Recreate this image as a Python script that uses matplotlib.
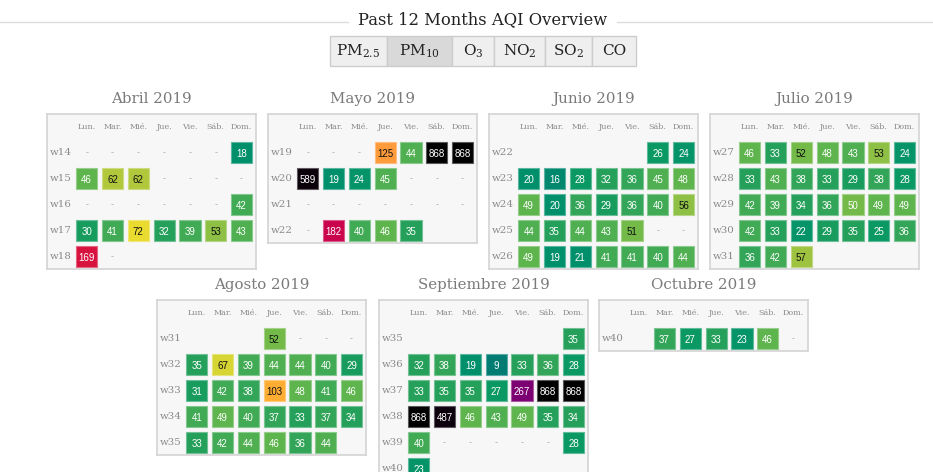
import matplotlib
matplotlib.use("Agg")
import matplotlib.pyplot as plt
import matplotlib.colors as mcolors
from matplotlib.patches import Rectangle
import numpy as np

plt.rcParams["mathtext.fontset"] = "dejavuserif"

# ---- data -----------------------------------------------------------------
# None  -> day without a reading (drawn as a dash)
# ""    -> day outside the month (left blank)
B = ""
days = ["Lun.", "Mar.", "Mié.", "Jue.", "Vie.", "Sáb.", "Dom."]
tabs = [r"PM$_{2.5}$", r"PM$_{10}$", r"O$_3$", r"NO$_2$", r"SO$_2$", "CO"]
active_tab = 1

months = ["Abril 2019", "Mayo 2019", "Junio 2019", "Julio 2019",
          "Agosto 2019", "Septiembre 2019", "Octubre 2019"]

abril_weeks = ["w14", "w15", "w16", "w17", "w18"]
abril = [
    [None, None, None, None, None, None, 18],
    [46, 62, 62, None, None, None, None],
    [None, None, None, None, None, None, 42],
    [30, 41, 72, 32, 39, 53, 43],
    [169, None, B, B, B, B, B],
]

mayo_weeks = ["w19", "w20", "w21", "w22"]
mayo = [
    [None, None, None, 125, 44, 868, 868],
    [589, 19, 24, 45, None, None, None],
    [None, None, None, None, None, None, None],
    [None, 182, 40, 46, 35, B, B],
]

junio_weeks = ["w22", "w23", "w24", "w25", "w26"]
junio = [
    [B, B, B, B, B, 26, 24],
    [20, 16, 28, 32, 36, 45, 48],
    [49, 20, 36, 29, 36, 40, 56],
    [44, 35, 44, 43, 51, None, None],
    [49, 19, 21, 41, 41, 40, 44],
]

julio_weeks = ["w27", "w28", "w29", "w30", "w31"]
julio = [
    [46, 33, 52, 48, 43, 53, 24],
    [33, 43, 38, 33, 29, 38, 28],
    [42, 39, 34, 36, 50, 49, 49],
    [42, 33, 22, 29, 35, 25, 36],
    [36, 42, 57, B, B, B, B],
]

agosto_weeks = ["w31", "w32", "w33", "w34", "w35"]
agosto = [
    [B, B, B, 52, None, None, None],
    [35, 67, 39, 44, 44, 40, 29],
    [31, 42, 38, 103, 48, 41, 46],
    [41, 49, 40, 37, 33, 37, 34],
    [33, 42, 44, 46, 36, 44, B],
]

septiembre_weeks = ["w35", "w36", "w37", "w38", "w39", "w40"]
septiembre = [
    [B, B, B, B, B, B, 35],
    [32, 38, 19, 9, 33, 36, 28],
    [33, 35, 35, 27, 267, 868, 868],
    [868, 487, 46, 43, 49, 35, 34],
    [40, None, None, None, None, None, 28],
    [23, B, B, B, B, B, B],
]

octubre_weeks = ["w40"]
octubre = [
    [B, 37, 27, 33, 23, 46, None],
]

month_weeks = [abril_weeks, mayo_weeks, junio_weeks, julio_weeks,
               agosto_weeks, septiembre_weeks, octubre_weeks]
month_values = [abril, mayo, junio, julio, agosto, septiembre, octubre]

# ---- colour scale for AQI values ------------------------------------------
aqi_stops = [0, 9, 18, 25, 30, 36, 42, 48, 52, 57, 62, 67, 72,
             103, 125, 169, 182, 267, 320, 900]
aqi_colors = ["#007a70", "#007d74", "#00906b", "#0a9863", "#1f9e5c",
              "#35a657", "#4dae51", "#68b74b", "#88bf46", "#a1c440",
              "#bdca3a", "#d6d533", "#f1dd2f", "#ffac33", "#ff9a3a",
              "#d8133f", "#c6004e", "#7a0073", "#100010", "#000000"]
vmax = aqi_stops[-1]
cmap = mcolors.LinearSegmentedColormap.from_list(
    "aqi", [(s / vmax, c) for s, c in zip(aqi_stops, aqi_colors)])
norm = mcolors.Normalize(0, vmax)


def text_color(v):
    return "#111111" if 51 <= v <= 150 else "white"


def lighten(rgba, k=0.35):
    r, g, b, _ = rgba
    return (r + (1 - r) * k, g + (1 - g) * k, b + (1 - b) * k)


# ---- figure ----------------------------------------------------------------
W, H = 933, 472
fig = plt.figure(figsize=(W / 100, H / 100), dpi=100)
fig.patch.set_facecolor("white")

serif = "DejaVu Serif"
sans = "Liberation Sans"

# header: title with rules on both sides
bg = fig.add_axes([0, 0, 1, 1])
bg.set_xlim(0, W)
bg.set_ylim(H, 0)
bg.axis("off")
bg.text(483, 20, "Past 12 Months AQI Overview", ha="center", va="center",
        fontsize=11.8, family=serif, color="#222222")
bg.plot([0, 348], [21.5, 21.5], color="#dddddd", lw=1)
bg.plot([617, W], [21.5, 21.5], color="#dddddd", lw=1)

# pollutant selector tabs
tab_edges = [330, 387, 452, 494, 545, 592, 636]
for i, label in enumerate(tabs):
    x0, x1 = tab_edges[i], tab_edges[i + 1]
    face = "#d9d9d9" if i == active_tab else "#efefef"
    bg.add_patch(Rectangle((x0, 36), x1 - x0, 30, facecolor=face,
                           edgecolor="#cccccc", lw=1))
    bg.text((x0 + x1) / 2, 51, label, ha="center", va="center",
            fontsize=11, family=serif, color="#222222")

# month panels: (left, top) of each box in pixels
panel_pos = [(47, 114), (268, 114), (489, 114), (710, 114),
             (157, 300), (379, 300), (599, 300)]
col_px, row_px = 25.8, 26.0
x_lo, x_hi = -1.54, 6.56
cell = 0.82

for name, weeks, vals, (left, top) in zip(months, month_weeks, month_values, panel_pos):
    n = len(weeks)
    y_lo, y_hi = -1.49, n - 1 + 0.49
    w_px = (x_hi - x_lo) * col_px
    h_px = (y_hi - y_lo) * row_px
    ax = fig.add_axes([left / W, 1 - (top + h_px) / H, w_px / W, h_px / H])
    ax.set_xlim(x_lo, x_hi)
    ax.set_ylim(y_hi, y_lo)
    ax.set_facecolor("#f7f7f7")
    ax.set_xticks([])
    ax.set_yticks([])
    for sp in ax.spines.values():
        sp.set_color("#d4d4d4")
        sp.set_linewidth(1.2)

    ax.annotate(name, xy=(0.5, 1), xycoords="axes fraction",
                xytext=(0, 10.8), textcoords="offset points",
                ha="center", va="center", fontsize=10.8, family=serif,
                color="#7a7a7a", annotation_clip=False)

    for j, d in enumerate(days):
        ax.text(j, -1, d, ha="center", va="center", fontsize=5.8,
                family=serif, color="#8a8a8a")
    for r, wk in enumerate(weeks):
        ax.text(-1.02, r, wk, ha="center", va="center", fontsize=7.4,
                family=serif, color="#8a8a8a")
        for j, v in enumerate(vals[r]):
            if v == B:
                continue
            if v is None:
                ax.text(j, r, "-", ha="center", va="center", fontsize=6.5,
                        family=sans, color="#aaaaaa")
                continue
            fc = cmap(norm(v))
            ax.add_patch(Rectangle((j - cell / 2, r - cell / 2), cell, cell,
                                   facecolor=fc, edgecolor=lighten(fc), lw=0.8))
            ax.text(j, r + 0.03, str(v), ha="center", va="center",
                    fontsize=7, family=sans, color=text_color(v))

fig.savefig("out.png", dpi=100, facecolor="white")
